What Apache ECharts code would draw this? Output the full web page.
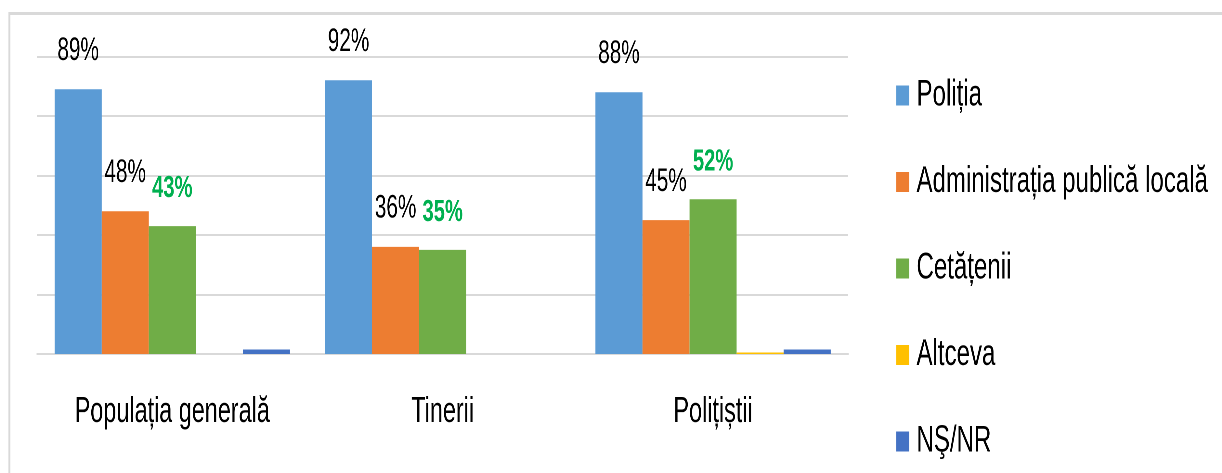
<!DOCTYPE html>
<html>
<head>
<meta charset="utf-8">
<script src="https://cdn.jsdelivr.net/npm/echarts@6/dist/echarts.min.js"></script>
<style>
html,body{margin:0;padding:0;background:#fff;}
#wrap{width:1222px;height:473px;overflow:hidden;position:relative;}
#c{width:1880px;height:473px;transform:scaleX(0.65);transform-origin:0 0;}
</style>
</head>
<body>
<div id="wrap"><div id="c"></div></div>
<script>
const categories = ['Populația generală', 'Tinerii', 'Polițiștii'];
const seriesNames = ['Poliția', 'Administrația publică locală', 'Cetățenii', 'Altceva', 'NŞ/NR'];
const politia = [89, 92, 88];
const administratia = [48, 36, 45];
const cetatenii = [43, 35, 52];
const altceva = [0, 0, 0.5];
const nsnr = [1.5, 0, 1.5];
const yTicks = [0, 20, 40, 60, 80, 100];

const colors = ['#5b9bd5', '#ed7d31', '#70ad47', '#ffc000', '#4472c4'];
const font = "'Liberation Sans', Arial, sans-serif";

const chart = echarts.init(document.getElementById('c'), null, {renderer: 'canvas', devicePixelRatio: 2});

const blackLabel = {
  show: true, position: 'top', distance: 22, formatter: '{c}%',
  fontFamily: font, fontSize: 32, color: '#000'
};
const greenLabel = {
  show: true, position: 'top', distance: 22, formatter: '{c}%',
  fontFamily: font, fontSize: 31, fontWeight: 'bold', color: '#00b050'
};
const dataSets = [politia, administratia, cetatenii, altceva, nsnr];
const labels = [blackLabel, blackLabel, greenLabel, {show: false}, {show: false}];

chart.setOption({
  animation: false,
  color: colors,
  graphic: [{
    type: 'rect', left: 12, top: 11,
    shape: {width: 2000, height: 600},
    style: {fill: 'none', stroke: '#d9d9d9', lineWidth: 3},
    silent: true
  }],
  grid: {left: 57, right: 575, top: 56.5, bottom: 119, containLabel: false},
  legend: {
    orient: 'vertical', left: 1374, top: 72,
    itemWidth: 20, itemHeight: 20, itemGap: 49.5,
    icon: 'rect',
    textStyle: {fontFamily: font, fontSize: 37, color: '#000', padding: [0, 0, 0, 6]},
    data: seriesNames
  },
  xAxis: {
    type: 'category', data: categories,
    axisLine: {lineStyle: {color: '#d9d9d9', width: 2}},
    axisTick: {show: false},
    axisLabel: {fontFamily: font, fontSize: 36, color: '#000', margin: 40}
  },
  yAxis: {
    type: 'value', min: yTicks[0], max: yTicks[yTicks.length - 1], interval: yTicks[1] - yTicks[0],
    axisLabel: {show: false}, axisLine: {show: false}, axisTick: {show: false},
    splitLine: {lineStyle: {color: '#d9d9d9', width: 2}}
  },
  series: seriesNames.map((name, i) => ({
    name: name, type: 'bar', data: dataSets[i],
    barGap: '0%', barCategoryGap: '13%',
    label: labels[i]
  }))
});
</script>
</body>
</html>
